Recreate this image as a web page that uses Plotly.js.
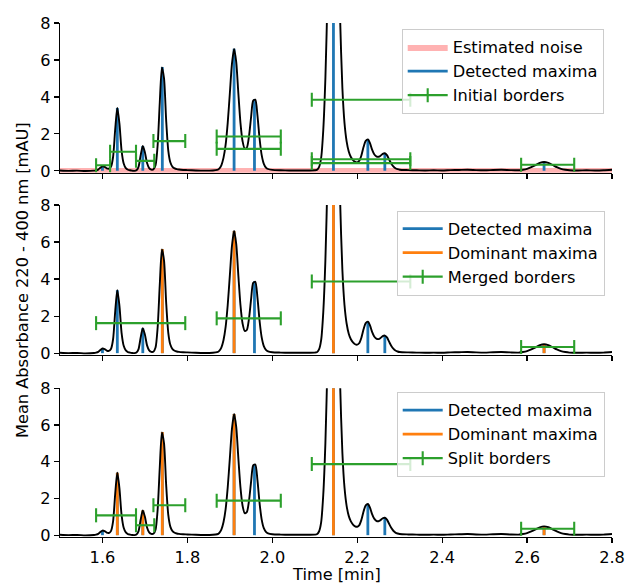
<!DOCTYPE html>
<html>
<head>
<meta charset="utf-8">
<script src="https://cdn.plot.ly/plotly-3.0.1.min.js"></script>
<style>html,body{margin:0;padding:0;background:#fff;}</style>
</head>
<body>
<div id="chart" style="width:625px;height:586px;"></div>
<script>
// ---- chromatogram ----
const times = [1.50,1.52,1.54,1.56,1.58,1.585,1.590,1.595,1.600,1.605,1.610,1.615,1.620,1.625,1.630,1.635,1.640,1.645,1.650,1.655,1.660,1.665,1.670,1.675,1.680,1.685,1.690,1.695,1.700,1.705,1.710,1.715,1.720,1.725,1.730,1.735,1.740,1.745,1.750,1.755,1.760,1.765,1.770,1.775,1.780,1.790,1.800,1.820,1.840,1.860,1.870,1.875,1.880,1.885,1.890,1.895,1.900,1.905,1.910,1.915,1.920,1.925,1.930,1.935,1.940,1.945,1.950,1.955,1.960,1.965,1.970,1.975,1.980,1.985,1.990,2.000,2.020,2.040,2.060,2.080,2.100,2.105,2.110,2.115,2.120,2.125,2.130,2.135,2.140,2.145,2.150,2.155,2.160,2.165,2.170,2.175,2.180,2.185,2.190,2.195,2.200,2.205,2.210,2.215,2.220,2.225,2.230,2.235,2.240,2.245,2.250,2.255,2.260,2.265,2.270,2.275,2.280,2.285,2.290,2.295,2.300,2.320,2.340,2.360,2.380,2.400,2.420,2.440,2.460,2.480,2.500,2.520,2.540,2.560,2.580,2.590,2.600,2.610,2.620,2.630,2.640,2.650,2.660,2.670,2.680,2.690,2.700,2.720,2.740,2.760,2.780,2.800];
const absorbance = [0.02,0.00,0.01,-0.01,0.01,0.03,0.07,0.17,0.25,0.22,0.14,0.12,0.22,0.75,2.25,3.40,2.55,1.10,0.40,0.15,0.06,0.03,0.01,0.00,0.03,0.22,0.85,1.35,1.00,0.42,0.15,0.07,0.08,0.30,1.40,3.70,5.60,5.00,2.75,1.10,0.45,0.22,0.13,0.09,0.07,0.05,0.04,0.02,0.01,0.02,0.05,0.12,0.30,0.70,1.40,2.60,4.20,5.80,6.60,5.90,4.20,2.60,1.60,1.20,1.25,1.85,2.90,3.80,3.85,3.00,1.75,0.85,0.38,0.18,0.10,0.05,0.03,0.02,0.02,0.02,0.03,0.05,0.20,0.70,2.20,5.00,9.50,15.5,21.5,24.0,21.0,14.0,8.00,4.50,2.60,1.60,1.05,0.75,0.58,0.48,0.46,0.55,0.85,1.30,1.62,1.70,1.50,1.15,0.90,0.78,0.76,0.82,0.92,0.95,0.85,0.62,0.40,0.24,0.14,0.09,0.06,0.04,0.03,0.02,0.03,0.02,0.04,0.05,0.06,0.04,0.03,0.05,0.06,0.04,0.03,0.06,0.11,0.20,0.31,0.43,0.48,0.43,0.32,0.20,0.11,0.06,0.03,0.02,0.03,0.02,0.03,0.06];

// ---- estimated noise band ----
const noiseX = [1.5, 2.8];
const noiseLevel = 0.15;

// ---- maxima ----
const maxTimes   = [1.600,1.635,1.695,1.741,1.910,1.958,2.144,2.225,2.265,2.640];
const maxHeights = [0.25, 3.40, 1.35, 5.62, 6.60, 3.88, 24.0, 1.70, 0.95, 0.48];
const dominantMerged = [1.741,1.910,2.144,2.640];
const dominantSplit  = [1.635,1.695,1.741,1.910,2.144,2.640];

// ---- borders ----
const initStart = [1.585,1.618,1.679,1.720,1.869,1.869,2.093,2.093,2.093,2.586];
const initEnd   = [1.618,1.679,1.722,1.795,2.020,2.020,2.325,2.325,2.325,2.711];
const initLevel = [0.30, 1.03, 0.54, 1.61, 1.86, 1.19, 3.85, 0.63, 0.42, 0.33];
const mergedStart = [1.585,1.869,2.093,2.586];
const mergedEnd   = [1.795,2.020,2.325,2.711];
const mergedLevel = [1.62, 1.88, 3.87, 0.33];
const splitStart = [1.585,1.679,1.720,1.869,2.093,2.586];
const splitEnd   = [1.679,1.722,1.795,2.020,2.325,2.711];
const splitLevel = [1.08, 0.54, 1.63, 1.88, 3.87, 0.35];

// ---- ticks / labels ----
const xTicks = [1.6,1.8,2.0,2.2,2.4,2.6,2.8];
const xTickText = ["1.6","1.8","2.0","2.2","2.4","2.6","2.8"];
const yTicks = [0,2,4,6,8];
const xLabel = "Time [min]";
const yLabel = "Mean Absorbance 220 - 400 nm [mAU]";
const labelNoise = "Estimated noise";
const labelDetected = "Detected maxima";
const labelDominant = "Dominant maxima";
const labelInitial = "Initial borders";
const labelMerged = "Merged borders";
const labelSplit = "Split borders";

const BLUE = "#1f77b4", ORANGE = "#ff7f0e", GREEN = "#2ca02c";
const FONT = "DejaVu Sans";
const FS = 16.2;

function vlines(ts) {
  const x = [], y = [];
  ts.forEach(t => {
    const i = maxTimes.indexOf(t);
    x.push(t, t, null); y.push(0, maxHeights[i], null);
  });
  return {x, y};
}
function borders(s, e, v) {
  const x = [], y = [];
  for (let i = 0; i < s.length; i++) { x.push(s[i], e[i], null); y.push(v[i], v[i], null); }
  return {x, y};
}

const traces = [];
const axes = [["x","y","legend"],["x2","y2","legend2"],["x3","y3","legend3"]];
const borderSets = [[initStart,initEnd,initLevel,labelInitial],[mergedStart,mergedEnd,mergedLevel,labelMerged],[splitStart,splitEnd,splitLevel,labelSplit]];
const dominantSets = [null, dominantMerged, dominantSplit];

axes.forEach((a, p) => {
  const [xa, ya, lg] = a;
  if (p === 0) {
    traces.push({x:[noiseX[0],noiseX[1],noiseX[1],noiseX[0]], y:[-noiseLevel,-noiseLevel,noiseLevel,noiseLevel],
      fill:"toself", fillcolor:"rgba(255,0,0,0.3)", line:{width:0}, mode:"lines",
      name:labelNoise, xaxis:xa, yaxis:ya, legend:lg, hoverinfo:"skip"});
  }
  const vb = vlines(maxTimes);
  traces.push({x:vb.x, y:vb.y, mode:"lines", line:{color:BLUE, width:2.8}, name:labelDetected,
    xaxis:xa, yaxis:ya, legend:lg});
  if (dominantSets[p]) {
    const vo = vlines(dominantSets[p]);
    traces.push({x:vo.x, y:vo.y, mode:"lines", line:{color:ORANGE, width:2.8}, name:labelDominant,
      xaxis:xa, yaxis:ya, legend:lg});
  }
  traces.push({x:times, y:absorbance, mode:"lines", line:{color:"#000", width:1.9, shape:"spline", smoothing:0.7},
    showlegend:false, xaxis:xa, yaxis:ya, hoverinfo:"skip"});
  const b = borderSets[p];
  const bb = borders(b[0], b[1], b[2]);
  traces.push({x:bb.x, y:bb.y, mode:"lines+markers", line:{color:GREEN, width:2.1},
    marker:{symbol:"line-ns", size:10, line:{color:GREEN, width:2.1}, color:GREEN},
    name:b[3], xaxis:xa, yaxis:ya, legend:lg});
});

const plotH = 586 - 23 - 49;
function py(px) { return (586 - 49 - px) / plotH; }

const xBase = {range:[1.5,2.8], tickvals:xTicks, ticktext:xTickText, ticks:"outside", ticklen:5, tickwidth:1.2,
  tickcolor:"#000", showline:true, linecolor:"#000", linewidth:1.2, showgrid:false, zeroline:false,
  tickfont:{family:FONT, size:FS, color:"#000"}};
const yBase = {range:[-0.1,8], tickvals:yTicks, ticks:"outside", ticklen:5, tickwidth:1.2,
  tickcolor:"#000", showline:true, linecolor:"#000", linewidth:1.2, showgrid:false, zeroline:false,
  tickfont:{family:FONT, size:FS, color:"#000"}};

const legBase = {bgcolor:"rgba(255,255,255,0.8)", bordercolor:"#cccccc", borderwidth:1, itemwidth:40,
  font:{family:FONT, size:FS, color:"#000"}, xanchor:"left", yanchor:"top"};

const layout = {
  width:625, height:586,
  margin:{l:60, r:13, t:23, b:49},
  paper_bgcolor:"#fff", plot_bgcolor:"#fff",
  font:{family:FONT, size:FS, color:"#000"},
  xaxis: Object.assign({}, xBase, {anchor:"y", showticklabels:false}),
  xaxis2: Object.assign({}, xBase, {anchor:"y2", showticklabels:false}),
  xaxis3: Object.assign({}, xBase, {anchor:"y3"}),
  yaxis: Object.assign({}, yBase, {domain:[py(172.7), 1], anchor:"x"}),
  yaxis2: Object.assign({}, yBase, {domain:[py(355), py(205)], anchor:"x2"}),
  yaxis3: Object.assign({}, yBase, {domain:[0, py(388.3)], anchor:"x3"}),
  legend: Object.assign({}, legBase, {x:(401.7-60)/552, y:py(29)}),
  legend2: Object.assign({}, legBase, {x:(396.7-60)/552, y:py(210.5)}),
  legend3: Object.assign({}, legBase, {x:(396.7-60)/552, y:py(392)}),
  annotations:[
    {text:yLabel, xref:"paper", yref:"paper", x:(22-60)/552, y:py(280), textangle:-90,
     showarrow:false, xanchor:"center", yanchor:"middle", font:{family:FONT, size:FS, color:"#000"}},
    {text:xLabel, xref:"paper", yref:"paper", x:0.5, y:py(574.5), showarrow:false,
     xanchor:"center", yanchor:"middle", font:{family:FONT, size:FS, color:"#000"}}
  ],
  showlegend:true
};

Plotly.newPlot("chart", traces, layout, {displayModeBar:false, staticPlot:true});
</script>
</body>
</html>
